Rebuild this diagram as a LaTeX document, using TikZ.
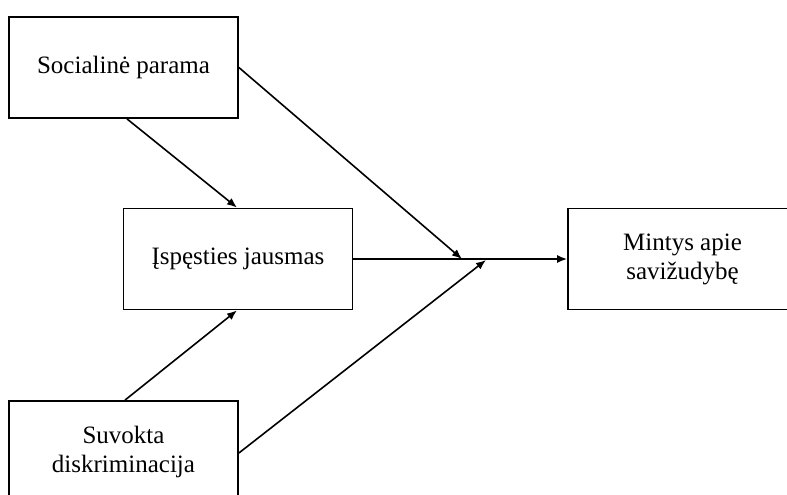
\documentclass[tikz,border=0pt]{standalone}
\usepackage{fontspec}
\setmainfont{Liberation Serif}
\usetikzlibrary{arrows.meta}
\tikzset{
  box/.style={draw, line width=1.8pt, minimum width=229pt, minimum height=101pt,
    inner sep=0pt, align=center, font=\fontsize{25}{29}\selectfont},
  link/.style={line width=1.6pt, -{Latex[length=10pt,width=8pt]}}
}
\begin{document}
\begin{tikzpicture}[x=1pt,y=-1pt]
  \useasboundingbox (0,0) rectangle (787,495);
  \clip (0,0) rectangle (787,495);
  % boxes
  \node[box] (soc) at (123.5,67.5) {Socialinė parama};
  \node[box] (isp) at (238,259) {Įspęsties jausmas};
  \node[box] (sus) at (123.5,451.5) {Suvokta\\diskriminacija};
  \node[box] (min) at (682.5,259) {Mintys apie\\savižudybę};
  % meeting points on the main path
  \coordinate (j1) at (462,259);
  \coordinate (j2) at (486,260);
  % connectors
  \draw[link] ([xshift=3.5pt]soc.south) -- ([xshift=-1pt]isp.north);
  \draw[link] ([xshift=1.5pt]sus.north) -- ([xshift=-1pt]isp.south);
  \draw[link] (isp.east) -- (min.west);
  \draw[link] (soc.east) -- (j1);
  \draw[link] ([yshift=-1.5pt]sus.east) -- (j2);
\end{tikzpicture}
\end{document}
